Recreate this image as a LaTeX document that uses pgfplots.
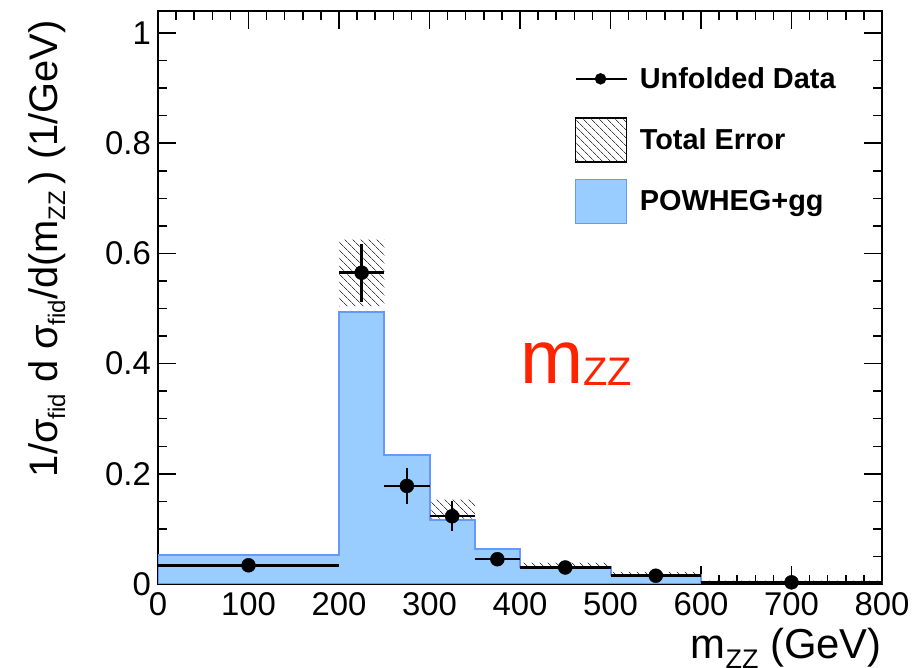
\documentclass[border=0pt]{standalone}
\usepackage{fontspec}
\setmainfont{Liberation Sans}
\usepackage{pgfplots}
\pgfplotsset{compat=1.18}
\usepgfplotslibrary{fillbetween}
\usetikzlibrary{patterns.meta}
\definecolor{powfill}{RGB}{153,204,255}
\definecolor{powline}{RGB}{102,153,255}
\definecolor{mred}{RGB}{255,36,0}
\newcommand{\ysub}[1]{\raisebox{-8bp}{\fontsize{24}{24}\selectfont #1}}
\newcommand{\xsub}[1]{\raisebox{-10bp}{\fontsize{27}{27}\selectfont #1}}
\tikzset{hatchpat/.style={pattern={Lines[angle=-45,distance=6bp,line width=0.7bp]},pattern color=black!75}}

% POWHEG+gg histogram (left bin edges, last repeated)
\pgfplotstableread{
x y
0 0.0525
200 0.494
250 0.235
300 0.117
350 0.063
400 0.031
500 0.016
600 0.004
800 0.004
}\powheg

% Total error band (upper / lower edges per bin)
\pgfplotstableread{
x up lo
0 0.047 0.022
200 0.625 0.504
250 0.212 0.142
300 0.153 0.092
350 0.063 0.028
400 0.039 0.019
500 0.022 0.007
600 0.006 0.002
800 0.006 0.002
}\toterr

% Unfolded data
\pgfplotstableread{
x y ex eyp eym
100 0.034 100 0.004 0.004
225 0.565 25 0.053 0.053
275 0.178 25 0.033 0.033
325 0.123 25 0.027 0.027
375 0.045 25 0.012 0.012
450 0.030 50 0.004 0.004
550 0.015 50 0.004 0.004
700 0.003 100 0.004 0.003
}\data

\begin{document}
\begin{tikzpicture}
\begin{axis}[
  at={(0,0)}, anchor=south west,
  scale only axis, width=724bp, height=573bp,
  xmin=0, xmax=800, ymin=0, ymax=1.04,
  xtick distance=100, minor x tick num=4,
  ytick={0,0.2,0.4,0.6,0.8,1}, minor y tick num=3,
  tick pos=both, tick align=inside,
  major tick length=18bp, minor tick length=9bp,
  every tick/.style={line width=1.5bp, black},
  axis line style={line width=2.5bp},
  /pgf/number format/assume math mode=true,
  tick label style={font=\fontsize{33}{33}\selectfont},
  xticklabel style={inner sep=2bp, yshift=-6bp},
  yticklabel style={inner sep=2bp, xshift=-5bp},
  xlabel={m\xsub{ZZ} (GeV)},
  xlabel style={at={(axis description cs:1,0)}, anchor=base east, yshift=-74bp, inner sep=0pt, font=\fontsize{42}{42}\selectfont},
  ylabel={1/σ\ysub{fid} d σ\ysub{fid}/d(m\ysub{ZZ}\,) (1/GeV)},
  ylabel style={at={(axis description cs:-0.1395,0.984)}, rotate=0, anchor=base east, inner sep=0pt, font=\fontsize{40}{40}\selectfont},
  legend style={at={(rel axis cs:0.575,0.92)}, anchor=north west, draw=none, fill=none, inner sep=0pt, outer sep=0pt,
    font=\bfseries\fontsize{29}{29}\selectfont, row sep=16bp, column sep=12bp,
    nodes={inner sep=0pt}},
  legend cell align=left,
]
\addlegendimage{legend image code/.code={\path[draw=none,fill=none] (0bp,-22bp) rectangle (51bp,22bp); \draw[line width=2.5bp] (0bp,0bp) -- (51bp,0bp); \fill (25bp,0bp) circle (5.5bp);}}
\addlegendentry{Unfolded Data}
\addlegendimage{legend image code/.code={\draw[line width=1.8bp, hatchpat] (0bp,-22bp) rectangle (51bp,22bp);}}
\addlegendentry{Total Error}
\addlegendimage{legend image code/.code={\draw[line width=1.8bp, draw=powline, fill=powfill] (0bp,-22bp) rectangle (51bp,22bp);}}
\addlegendentry{POWHEG+gg}

\addplot[const plot mark left, draw=powline, line width=2bp, fill=powfill, forget plot] table[x=x,y=y] {\powheg} \closedcycle;

\addplot[name path=up, const plot mark left, draw=none, forget plot] table[x=x,y=up] {\toterr};
\addplot[name path=lo, const plot mark left, draw=none, forget plot] table[x=x,y=lo] {\toterr};
\addplot[hatchpat, draw=none, forget plot] fill between[of=up and lo];

\addplot[only marks, mark=*, mark size=7bp, black, forget plot,
  error bars/.cd, x dir=both, x explicit, y dir=both, y explicit, error mark=none,
  error bar style={line width=2.5bp, black}]
  table[x=x, y=y, x error=ex, y error plus=eyp, y error minus=eym] {\data};

\node[anchor=base west, inner sep=0pt, text=mred] at (axis cs:400,0.364)
  {\fontsize{76}{76}\selectfont m\raisebox{-2bp}{\fontsize{40}{40}\selectfont ZZ}};
\end{axis}
\path[use as bounding box] (-158bp,-84bp) rectangle (754bp,584bp);
\end{tikzpicture}
\end{document}
